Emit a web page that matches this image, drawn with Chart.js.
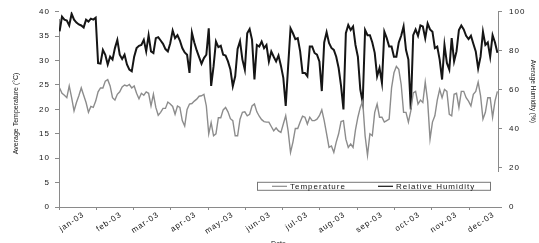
<!DOCTYPE html>
<html><head><meta charset="utf-8">
<script src="https://cdn.jsdelivr.net/npm/chart.js@4.4.1/dist/chart.umd.min.js"></script>
<style>html,body{margin:0;padding:0;background:#fff;}canvas{display:block;}</style>
</head><body>
<canvas id="c" width="539" height="243"></canvas>
<script>
// ---- data (daily series sampled every 2nd day, day 0 = 1 Jan 2003) ----
const monthLabels = ['jan-03','feb-03','mar-03','apr-03','may-03','jun-03','jul-03','aug-03','sep-03','oct-03','nov-03','dec-03'];
const seriesNames = ['Temperature', 'Relative Humidity'];
const temperature = [
 24.4,23.3,22.9,22.4,24.8,22.4,19.7,21.4,22.8,24.4,
 22.9,21.4,19.4,20.6,20.4,21.7,23.6,24.4,24.4,25.8,
 26.1,24.8,22.4,21.9,23.1,23.6,24.6,25.0,24.8,25.1,
 24.4,24.8,23.3,22.2,23.3,22.9,23.6,23.3,20.7,23.1,
 20.4,18.8,19.4,20.2,20.2,21.5,21.1,20.6,19.0,20.7,
 20.4,17.7,16.6,20.0,21.1,21.2,21.7,22.1,22.7,22.8,
 23.1,20.7,15.0,17.3,14.6,15.0,18.3,18.3,19.9,20.4,
 19.5,18.1,17.7,14.6,14.6,18.0,19.4,19.5,18.7,19.0,
 20.7,21.1,19.5,18.6,17.9,17.5,17.4,17.4,16.5,15.6,
 16.2,15.6,15.3,17.0,18.7,15.6,11.2,13.3,16.1,16.1,
 17.4,18.6,18.4,17.0,18.4,17.7,17.7,18.0,18.7,19.9,
 17.7,15.0,12.2,12.5,11.2,13.3,15.0,17.5,17.7,13.9,
 12.2,12.9,12.2,15.8,18.4,20.4,21.7,14.6,10.6,15.0,
 14.6,19.4,21.1,18.4,18.4,17.4,17.7,18.0,24.4,27.5,
 28.8,28.2,25.1,19.4,19.4,17.4,19.7,23.4,23.7,21.1,
 21.9,21.4,25.6,21.7,13.9,17.4,18.7,21.9,24.1,22.4,
 24.1,23.7,19.0,18.7,23.1,23.3,20.4,23.7,23.7,22.4,
 21.7,20.7,23.1,23.7,25.6,22.8,18.0,19.4,22.4,22.4,
 18.4,21.7,23.7
];
const humidity = [
 90,97.5,96,95.5,93,99,96,94.5,93.5,93,
 92,96,95,96.5,96,97,73.7,73.5,80.5,78,
 73,77,75.5,81.4,85.6,78,75.8,78,73,70.4,
 69.5,77,81.4,82.6,83,85.6,79.7,88,79.7,78.9,
 86.5,87,85.3,83.6,80.9,79.7,83.9,90.4,86.5,88,
 85.3,81.4,79.2,78,68.7,89.3,84.3,80.2,76.8,73.4,
 76.3,78,91.5,62,72,84.8,81.9,82.6,78,77.6,
 74.6,70.4,61.9,67,81,85,75.5,70.4,89,91.2,
 85.6,65.3,83,82.2,84.8,81.4,83,74.6,79.7,77,
 74.6,77.6,72.4,66.2,51.8,72,91.5,89,86,86.5,
 79.7,68.7,68.7,67,82.2,82.2,78.9,78,74.6,59.4,
 84.3,89.5,84,81.5,80.5,77,71.2,62,50,89,
 93.2,90.7,92.5,83,77,60.2,53.5,90.7,88,88,
 84.3,79,67,71.2,63.6,89.8,86.5,82.2,82.2,77,
 77,84.3,87.7,92.5,80.5,75.5,50,88,91,87.7,
 93,92.5,86.5,94,91,89.8,81.4,82.2,75.5,65.3,
 83,73.8,70.4,86.5,74.6,79.7,90.7,93,91,87.7,
 86,87.7,83.6,79.7,71,77,89.8,83,84.3,77,
 88,84.3,79
];
const sampleDays = temperature.map((_, i) => i * 2);
const tempTicks = [0,5,10,15,20,25,30,35,40];
const humTicks = [0,20,40,60,80,100];
const DAYS = 365, GROUP = 31;

// ---- chart ----
const FONT = 'Liberation Sans, Arial, sans-serif';
const textCol = '#151515';
const axisCol = '#8a8a8a';

const spacingPlugin = {
  id: 'spacing',
  beforeDraw(c) { c.ctx.letterSpacing = '0px'; },
  afterDatasetsDraw(c) { c.ctx.letterSpacing = '1px'; }
};
const titleShift = {
  id: 'titleShift',
  afterLayout(c) { c.scales.y2.bottom -= 36; c.scales.y.top += 8; }
};
const insetLegend = {
  id: 'insetLegend',
  afterDraw(c) {
    const ctx = c.ctx, a = c.chartArea;
    const L = a.left + 198, T = a.top + 170, W = 233, H = 8;
    ctx.save();
    ctx.letterSpacing = '1px';
    ctx.fillStyle = '#fff';
    ctx.fillRect(L, T, W, H);
    ctx.strokeStyle = '#777';
    ctx.lineWidth = 1;
    ctx.strokeRect(L + 0.5, T + 0.5, W, H);
    const cy = T + H / 2 + 0.5;
    const xs = [L + 15, L + 121];
    c.data.datasets.forEach((ds, i) => {
      ctx.strokeStyle = ds.borderColor;
      ctx.lineWidth = 1.2;
      ctx.beginPath(); ctx.moveTo(xs[i], cy); ctx.lineTo(xs[i] + 15, cy); ctx.stroke();
      ctx.fillStyle = textCol;
      ctx.font = '8px ' + FONT;
      ctx.textBaseline = 'middle';
      ctx.textAlign = 'left';
      ctx.fillText(ds.label, xs[i] + 18, cy + 0.5);
    });
    ctx.restore();
  }
};

new Chart(document.getElementById('c'), {
  type: 'line',
  data: {
    datasets: [
      { label: seriesNames[0], data: sampleDays.map((d, i) => ({x: d, y: temperature[i]})),
        borderColor: '#8c8c8c', borderWidth: 1.4, yAxisID: 'y', pointRadius: 0, tension: 0 },
      { label: seriesNames[1], data: sampleDays.map((d, i) => ({x: d, y: humidity[i]})),
        borderColor: '#151515', borderWidth: 2, yAxisID: 'y2', pointRadius: 0, tension: 0 }
    ]
  },
  options: {
    responsive: false, animation: false, devicePixelRatio: 1,
    layout: { padding: { top: 10, left: 0, right: 0, bottom: 0 } },
    plugins: { legend: { display: false }, tooltip: { enabled: false } },
    scales: {
      x: {
        type: 'linear', min: -0.5, max: DAYS - 0.5,
        afterBuildTicks(s) {
          const t = [];
          monthLabels.forEach((_, k) => { t.push({value: k * GROUP - 0.5}); t.push({value: k * GROUP + 15}); });
          s.ticks = t;
        },
        afterFit(s) { s.height = 36; },
        ticks: {
          autoSkip: false, minRotation: 34, maxRotation: 34, padding: 0, z: 1, labelOffset: 6,
          color: textCol, font: { family: FONT, size: 8 },
          callback(v) { const k = (v - 15) / GROUP; return Number.isInteger(k) ? monthLabels[k] : ''; }
        },
        grid: { drawOnChartArea: false, drawTicks: true, tickLength: 3,
          color: (ctx) => (ctx.tick && Number.isInteger((ctx.tick.value + 0.5) / GROUP)) ? axisCol : 'rgba(0,0,0,0)' },
        border: { display: true, color: axisCol, width: 1 },
        title: { display: true, text: 'Date', color: textCol, font: { family: FONT, size: 7 }, padding: { top: 0, bottom: -5 } }
      },
      y: {
        position: 'left', min: 0, max: 40,
        afterBuildTicks(s) { s.ticks = tempTicks.map(v => ({value: v})); },
        afterFit(s) { s.width = 59; },
        ticks: { color: textCol, font: { family: FONT, size: 8 }, padding: 5, z: 1 },
        grid: { drawOnChartArea: false, drawTicks: true, tickLength: 4, color: axisCol },
        border: { display: true, color: axisCol, width: 1 },
        title: { display: true, text: 'Average Temperature (°C)', color: textCol, font: { family: FONT, size: 7 }, padding: { top: 12, bottom: 0 } }
      },
      y2: {
        position: 'right', min: 0, max: 100,
        afterBuildTicks(s) { s.ticks = humTicks.map(v => ({value: v})); },
        afterFit(s) { s.width = 41; },
        ticks: { color: textCol, font: { family: FONT, size: 8 }, padding: 7, z: 1 },
        grid: { drawOnChartArea: false, drawTicks: true, tickLength: 4, color: axisCol },
        border: { display: true, color: axisCol, width: 1 },
        title: { display: true, text: 'Average Humidity (%)', color: textCol, font: { family: FONT, size: 6.5 }, padding: { top: 2, bottom: 0 } }
      }
    }
  },
  plugins: [spacingPlugin, titleShift, insetLegend]
});
</script>
</body></html>
